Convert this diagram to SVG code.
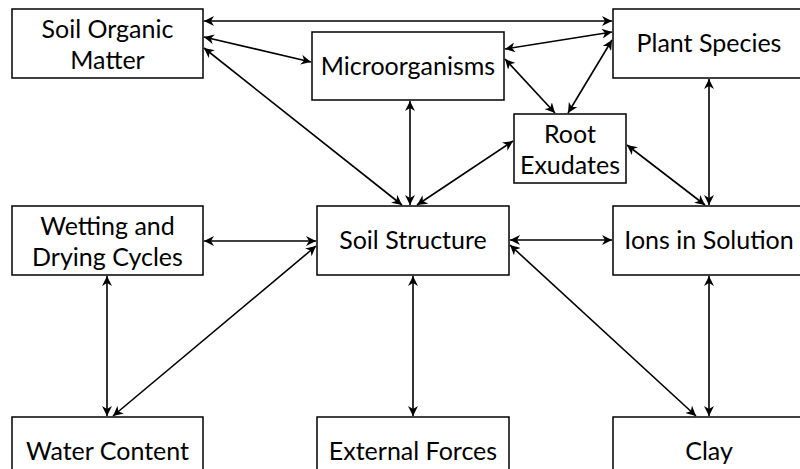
<svg xmlns="http://www.w3.org/2000/svg" width="800" height="469" viewBox="0 0 800 469">
<defs>
<marker id="ah" viewBox="0 0 10 10" refX="10" refY="5" markerWidth="10" markerHeight="10" markerUnits="userSpaceOnUse" orient="auto-start-reverse">
<path d="M0,0 L10,5 L0,10 L3,5 z" fill="#000"/>
</marker>
<style>
.box{fill:#fff;stroke:#000;stroke-width:1.5}
.t{font-family:Lato,"Open Sans","DejaVu Sans",sans-serif;font-size:25px;fill:#000;text-anchor:middle}
.e{stroke:#000;stroke-width:1.6;fill:none;marker-start:url(#ah);marker-end:url(#ah)}
</style>
</defs>
<rect width="800" height="469" fill="#fff"/>
<g id="connectors">
<line class="e" x1="204" y1="21" x2="612" y2="21"/>
<line class="e" x1="204" y1="37" x2="311" y2="62"/>
<line class="e" x1="204" y1="48" x2="402" y2="205"/>
<line class="e" x1="505" y1="49" x2="612" y2="32"/>
<line class="e" x1="505" y1="59" x2="555" y2="113"/>
<line class="e" x1="568" y1="113" x2="612" y2="40"/>
<line class="e" x1="410" y1="101" x2="410" y2="205"/>
<line class="e" x1="513" y1="141" x2="417" y2="205"/>
<line class="e" x1="627" y1="145" x2="705" y2="205"/>
<line class="e" x1="709" y1="79" x2="709" y2="205"/>
<line class="e" x1="204" y1="241" x2="316" y2="241"/>
<line class="e" x1="510" y1="240" x2="612" y2="240"/>
<line class="e" x1="107" y1="276" x2="107" y2="416"/>
<line class="e" x1="316" y1="246" x2="113" y2="416"/>
<line class="e" x1="413" y1="276" x2="413" y2="416"/>
<line class="e" x1="510" y1="245" x2="696" y2="416"/>
<line class="e" x1="709" y1="276" x2="709" y2="416"/>
</g>
<g id="soil-organic-matter"><rect class="box" x="12" y="9" width="191" height="69"/><text class="t" x="107.5" y="38">Soil Organic</text><text class="t" x="107.5" y="69">Matter</text></g>
<g id="microorganisms"><rect class="box" x="312" y="32" width="192" height="68"/><text class="t" x="408" y="75">Microorganisms</text></g>
<g id="plant-species"><rect class="box" x="613" y="9" width="192" height="69"/><text class="t" x="709" y="52">Plant Species</text></g>
<g id="root-exudates"><rect class="box" x="514" y="114" width="112" height="69"/><text class="t" x="570" y="143">Root</text><text class="t" x="570" y="174">Exudates</text></g>
<g id="wetting-drying"><rect class="box" x="12" y="206" width="191" height="69"/><text class="t" x="107.5" y="235">Wetting and</text><text class="t" x="107.5" y="266">Drying Cycles</text></g>
<g id="soil-structure"><rect class="box" x="317" y="206" width="192" height="69"/><text class="t" x="413" y="249">Soil Structure</text></g>
<g id="ions-in-solution"><rect class="box" x="613" y="206" width="192" height="69"/><text class="t" x="709" y="249">Ions in Solution</text></g>
<g id="water-content"><rect class="box" x="12" y="417" width="191" height="69"/><text class="t" x="107.5" y="460">Water Content</text></g>
<g id="external-forces"><rect class="box" x="317" y="417" width="192" height="69"/><text class="t" x="413" y="460">External Forces</text></g>
<g id="clay"><rect class="box" x="613" y="417" width="192" height="69"/><text class="t" x="709" y="460">Clay</text></g>
</svg>
